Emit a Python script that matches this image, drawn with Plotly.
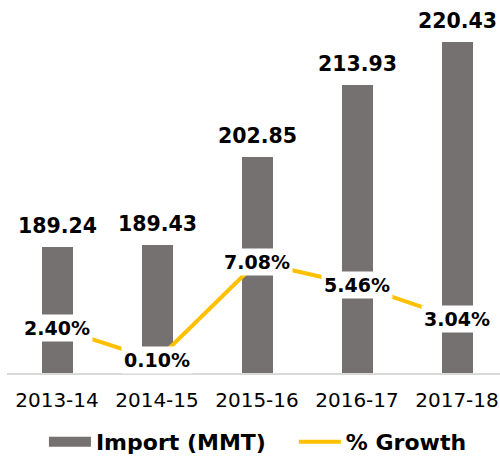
import plotly.graph_objects as go

years = ["2013-14", "2014-15", "2015-16", "2016-17", "2017-18"]
imports = [189.24, 189.43, 202.85, 213.93, 220.43]
growth = [2.40, 0.10, 7.08, 5.46, 3.04]

BAR = "#767171"
LINE = "#FFC000"
FONT = "DejaVu Sans"

fig = go.Figure()
fig.add_trace(go.Bar(x=years, y=imports, width=0.31, marker=dict(color=BAR, line=dict(width=0)),
                     showlegend=False, name="Import (MMT)"))
fig.add_trace(go.Scatter(x=[None], y=[None], mode="lines", line=dict(color=BAR, width=13),
                         name="Import (MMT)\u00a0\u00a0\u00a0"))
fig.add_trace(go.Scatter(x=years, y=growth, yaxis="y2", mode="lines",
                         line=dict(color=LINE, width=4), name="% Growth"))

anns = []
for yr, v in zip(years, imports):
    anns.append(dict(x=yr, y=v, xref="x", yref="y", text=f"<b>{v:.2f}</b>", showarrow=False,
                     yanchor="bottom", yshift=7, font=dict(family=FONT, size=20.5, color="black")))
for yr, g in zip(years, growth):
    anns.append(dict(x=yr, y=g, xref="x", yref="y2", text=f"<b>{g:.2f}%</b>", showarrow=False,
                     bgcolor="white", borderpad=2, font=dict(family=FONT, size=19, color="black")))

fig.update_layout(
    width=500, height=463,
    margin=dict(l=7, r=0, t=0, b=86),
    plot_bgcolor="white", paper_bgcolor="white",
    bargap=0,
    xaxis=dict(type="category", range=[-0.5, 4.43], showline=True, linecolor="#D9D9D9", linewidth=1.5,
               ticks="", ticklabelstandoff=8, tickfont=dict(family=FONT, size=20, color="black"),
               showgrid=False),
    yaxis=dict(range=[170, 226.8], visible=False, showgrid=False),
    yaxis2=dict(range=[-0.818, 25.77], overlaying="y", visible=False, showgrid=False),
    legend=dict(orientation="h", x=0.509, xanchor="center", y=-0.186, yanchor="middle",
                font=dict(family=FONT, size=22, color="black", weight="bold"),
                itemwidth=42, traceorder="normal"),
    annotations=anns,
)
fig.write_html("out.html", config={"displayModeBar": False},
               post_script="document.body.style.margin='0';document.body.style.overflow='hidden';")
